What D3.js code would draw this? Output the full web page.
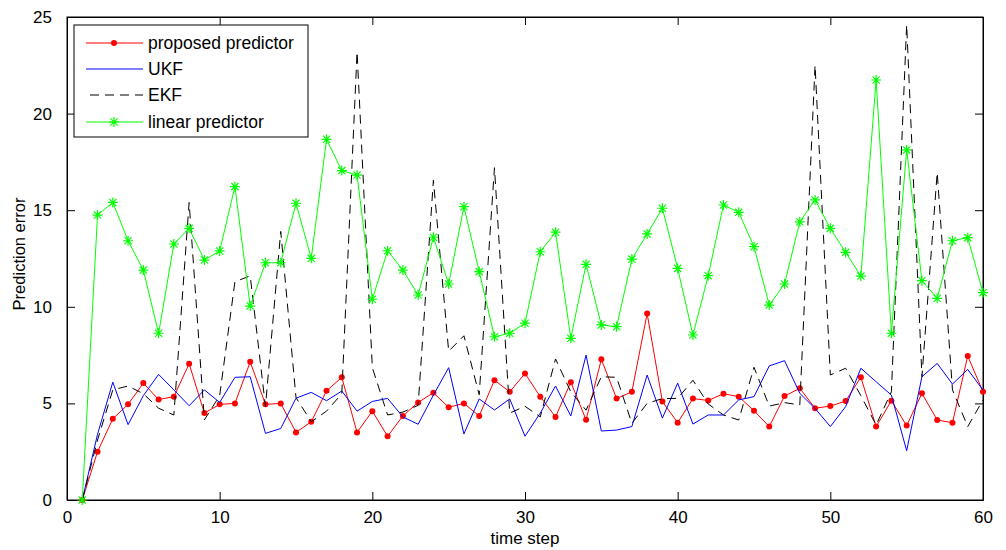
<!DOCTYPE html>
<html>
<head>
<meta charset="utf-8">
<script src="https://cdn.jsdelivr.net/npm/d3@7"></script>
<style>
  body { margin: 0; background: #fff; }
  svg text { font-family: "Liberation Sans", Arial, sans-serif; fill: #000; }
</style>
</head>
<body>
<div class="chart"></div>
<script>
const width = 1006
const height = 550
const margin = {top: 17, right: 23, bottom: 50, left: 67}

// time steps 1..60
const steps = d3.range(1, 61)

const proposed = [0, 2.5, 4.2, 4.95, 6.05, 5.2, 5.35, 7.05, 4.5, 4.95,
    5.0, 7.15, 4.95, 5.0, 3.5, 4.05, 5.65, 6.35, 3.5, 4.6,
    3.3, 4.35, 5.05, 5.55, 4.8, 5.0, 4.35, 6.2, 5.6, 6.55,
    5.35, 4.3, 6.1, 4.15, 7.28, 5.25, 5.6, 9.65, 5.1, 4.0,
    5.25, 5.15, 5.5, 5.35, 4.62, 3.8, 5.38, 5.78, 4.75, 4.86,
    5.12, 6.35, 3.8, 5.14, 3.85, 5.52, 4.14, 4.0, 7.45, 5.6]

const ukf = [0, 3.4, 6.1, 3.9, 5.4, 6.5, 5.7, 4.88, 5.7, 5.05,
    6.35, 6.38, 3.45, 3.7, 5.27, 5.57, 5.14, 5.64, 4.6, 5.1,
    5.26, 4.3, 3.92, 5.43, 6.85, 3.42, 5.23, 4.66, 5.23, 3.3,
    4.5, 5.9, 4.35, 7.5, 3.57, 3.62, 3.8, 6.47, 4.24, 6.05,
    3.93, 4.4, 4.4, 5.18, 5.35, 6.94, 7.21, 5.52, 4.74, 3.8,
    4.83, 6.82, 6.12, 5.43, 2.55, 6.38, 7.07, 6.0, 6.76, 5.69]

const ekf = [0, 3.1, 5.7, 5.9, 5.5, 4.75, 4.4, 15.4, 4.15, 5.4,
    11.3, 11.6, 4.85, 13.9, 5.3, 4.05, 4.6, 5.5, 23.2, 6.85,
    4.4, 4.55, 4.9, 16.55, 7.7, 8.5, 5.45, 17.2, 4.5, 4.85,
    4.3, 7.3, 5.6, 4.65, 6.38, 6.35, 3.97, 5.0, 5.25, 5.26,
    6.2, 4.97, 4.4, 4.14, 6.87, 4.86, 5.04, 4.92, 22.5, 6.47,
    6.82, 5.4, 3.88, 5.6, 24.6, 6.38, 16.95, 5.7, 3.8, 5.18]

const linear = [0, 14.75, 15.4, 13.42, 11.9, 8.63, 13.25, 14.06, 12.42, 12.89,
    16.22, 10.04, 12.28, 12.28, 15.36, 12.51, 18.67, 17.05, 16.82, 10.39,
    12.9, 11.9, 10.61, 13.6, 11.18, 15.18, 11.82, 8.45, 8.63, 9.15,
    12.85, 13.86, 8.37, 12.2, 9.06, 8.97, 12.47, 13.77, 15.1, 11.99,
    8.54, 11.61, 15.27, 14.89, 13.11, 10.09, 11.18, 14.4, 15.53, 14.06,
    12.82, 11.59, 21.74, 8.63, 18.12, 11.35, 10.44, 13.42, 13.58, 10.73]

const xTicks = [0, 10, 20, 30, 40, 50, 60]
const yTicks = [0, 5, 10, 15, 20, 25]
const seriesNames = ['proposed predictor', 'UKF', 'EKF', 'linear predictor']

const svg = d3.select('.chart').append('svg')
    .attr('width', width)
    .attr('height', height)

const x = d3.scaleLinear().domain([0, 60]).range([margin.left, width - margin.right])
const y = d3.scaleLinear().domain([0, 25]).range([height - margin.bottom, margin.top])

const tickLen = 8

// axes, ticks pointing inward, mirrored on top and right
svg.append('g')
    .attr('transform', `translate(0,${y(0)})`)
    .call(d3.axisBottom(x).tickValues(xTicks).tickSizeInner(-tickLen).tickSizeOuter(0).tickPadding(11))
svg.append('g')
    .attr('transform', `translate(0,${y(25)})`)
    .call(d3.axisTop(x).tickValues(xTicks).tickSizeInner(-tickLen).tickSizeOuter(0).tickFormat(''))
svg.append('g')
    .attr('transform', `translate(${x(0)},0)`)
    .call(d3.axisLeft(y).tickValues(yTicks).tickSizeInner(-tickLen).tickSizeOuter(0).tickPadding(15))
svg.append('g')
    .attr('transform', `translate(${x(60)},0)`)
    .call(d3.axisRight(y).tickValues(yTicks).tickSizeInner(-tickLen).tickSizeOuter(0).tickFormat(''))

svg.selectAll('.domain').attr('stroke', '#000')
svg.selectAll('.tick line').attr('stroke', '#000')
svg.selectAll('.tick text').style('font-size', '17px')

svg.append('rect')
    .attr('x', x(0)).attr('y', y(25))
    .attr('width', x(60) - x(0)).attr('height', y(0) - y(25))
    .attr('fill', 'none').attr('stroke', '#000')

const line = d3.line()
    .x((d, i) => x(steps[i]))
    .y(d => y(d))

const plot = svg.append('g')

plot.append('path').datum(proposed)
    .attr('d', line).attr('fill', 'none').attr('stroke', '#ff0000').attr('stroke-width', 1)
plot.append('g').selectAll('circle')
    .data(proposed).join('circle')
    .attr('cx', (d, i) => x(steps[i])).attr('cy', d => y(d))
    .attr('r', 3).attr('fill', '#ff0000')

plot.append('path').datum(ukf)
    .attr('d', line).attr('fill', 'none').attr('stroke', '#0000ff').attr('stroke-width', 1)

plot.append('path').datum(ekf)
    .attr('d', line).attr('fill', 'none').attr('stroke', '#000').attr('stroke-width', 1)
    .attr('stroke-dasharray', '9,6')

plot.append('path').datum(linear)
    .attr('d', line).attr('fill', 'none').attr('stroke', '#00ff00').attr('stroke-width', 1)

const star = (g, cx, cy) => {
    const s = 5, k = 3.6
    g.append('path')
        .attr('d', `M${cx - s},${cy}H${cx + s}M${cx},${cy - s}V${cy + s}` +
            `M${cx - k},${cy - k}L${cx + k},${cy + k}M${cx - k},${cy + k}L${cx + k},${cy - k}`)
        .attr('stroke', '#00ff00').attr('stroke-width', 1.2).attr('fill', 'none')
}
const stars = plot.append('g')
linear.forEach((d, i) => star(stars, x(steps[i]), y(d)))

// legend
const lg = svg.append('g')
lg.append('rect')
    .attr('x', 74).attr('y', 25).attr('width', 234).attr('height', 112)
    .attr('fill', '#fff').attr('stroke', '#000')

const rowY = [43, 69, 95, 122]
const colors = ['#ff0000', '#0000ff', '#000', '#00ff00']
seriesNames.forEach((name, i) => {
    const ln = lg.append('line')
        .attr('x1', 86).attr('x2', 143).attr('y1', rowY[i]).attr('y2', rowY[i])
        .attr('stroke', colors[i]).attr('stroke-width', 1)
    if (i === 2) ln.attr('x1', 90).attr('stroke-dasharray', '9,6')
    lg.append('text')
        .attr('x', 148).attr('y', rowY[i] + 6)
        .style('font-size', '17.5px')
        .text(name)
})
lg.append('circle').attr('cx', 114).attr('cy', rowY[0]).attr('r', 3).attr('fill', '#ff0000')
star(lg, 114, rowY[3])

// axis titles
svg.append('text')
    .attr('x', x(30)).attr('y', 544)
    .attr('text-anchor', 'middle')
    .style('font-size', '17px')
    .text('time step')

svg.append('text')
    .attr('transform', `translate(25,${254}) rotate(-90)`)
    .attr('text-anchor', 'middle')
    .style('font-size', '16.5px')
    .text('Prediction error')
</script>
</body>
</html>
